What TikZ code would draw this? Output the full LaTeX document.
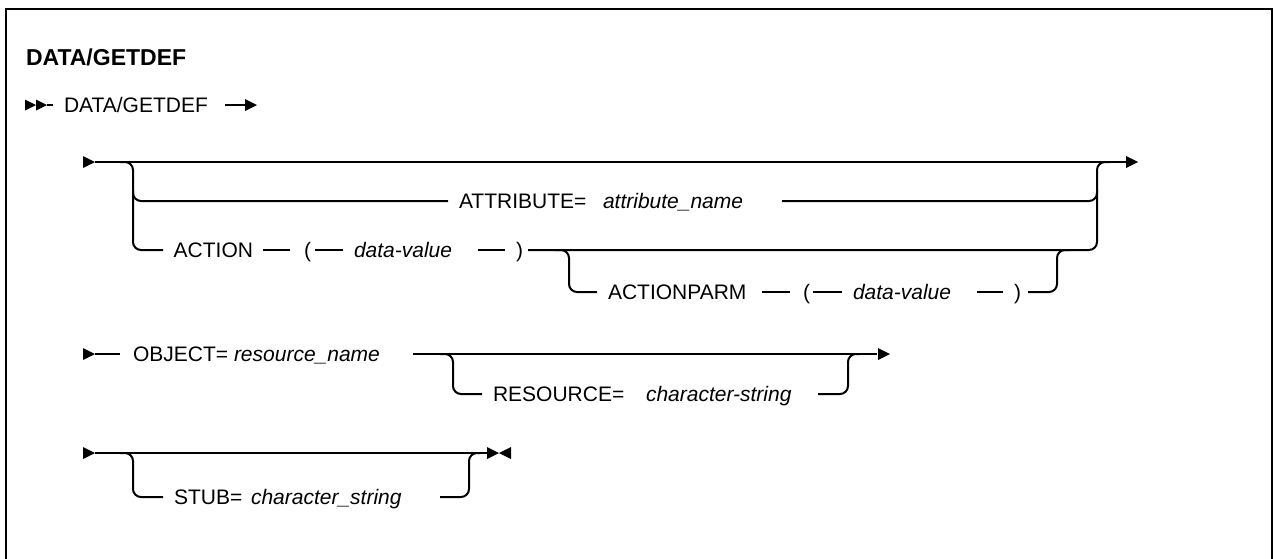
\documentclass[tikz,border=0pt]{standalone}
\usepackage{fontspec}
\setmainfont{Liberation Sans}
\begin{document}
\begin{tikzpicture}[x=1pt,y=-1pt,line width=2pt,
  lbl/.style={anchor=base west,inner sep=0pt,font=\fontsize{21}{25}\selectfont},
  var/.style={anchor=base west,inner sep=0pt,font=\fontsize{21}{25}\selectfont\itshape},
  ttl/.style={anchor=base west,inner sep=0pt,font=\fontsize{23}{27}\selectfont\bfseries},
  rr/.style={rounded corners=8pt},
  rtip/.pic={\fill (0,0) -- (-12,-6) -- (-12,6) -- cycle;},
  ltip/.pic={\fill (0,0) -- (12,-6) -- (12,6) -- cycle;},
  stip/.pic={\fill (0,0) -- (-11,-5.5) -- (-11,5.5) -- cycle;}]
\useasboundingbox (0,0) rectangle (1274,558);
\draw[line width=2.5pt] (6,562) -- (6,9) -- (1272,9) -- (1272,562);
% title
\node[ttl] (title) at (25,65) {DATA/GETDEF};
% command line
\pic at (36,105) {stip}; \pic at (47,105) {stip};
\draw (47,105) -- (53,105);
\node[lbl] (cmd) at (63,112.5) {DATA/GETDEF};
\draw (225,105) -- (247,105); \pic at (257,105) {rtip};
% section 1
\pic at (95,162) {rtip};
\draw (95,162) -- (1127,162); \pic at (1138,162) {rtip};
\draw[rr] (120,162) -- (133,162) -- (133,250) -- (163,250);
\draw[rr] (133,190) -- (133,201) -- (448,201);
\node[lbl] (attr) at (458,208.5) {ATTRIBUTE=};
\node[var] (attrv) at (602,208.5) {attribute\_name};
\draw[rr] (782,201) -- (1097,201) -- (1097,190);
\node[lbl] (act) at (172.7,257.5) {ACTION};
\draw (263,250) -- (290,250);
\node[lbl] (lp1) at (303,257.5) {(};
\draw (315,250) -- (343,250);
\node[var] (dv1) at (353,257.5) {data-value};
\draw (478,250) -- (505,250);
\node[lbl] (rp1) at (515,257.5) {)};
\draw[rr] (528,250) -- (1097,250) -- (1097,162) -- (1110,162);
\draw[rr] (555,250) -- (569,250) -- (569,292) -- (597,292);
\node[lbl] (ap) at (607,299.5) {ACTIONPARM};
\draw (762,292) -- (790,292);
\node[lbl] (lp2) at (802,299.5) {(};
\draw (813,292) -- (842,292);
\node[var] (dv2) at (852,299.5) {data-value};
\draw (977,292) -- (1003,292);
\node[lbl] (rp2) at (1013,299.5) {)};
\draw[rr] (1028,292) -- (1057,292) -- (1057,250) -- (1070,250);
% section 2
\pic at (95,354) {rtip};
\draw (95,354) -- (120,354);
\node[lbl] (obj) at (132,361.5) {OBJECT=};
\node[var] (objv) at (233,361.5) {resource\_name};
\draw (413,354) -- (877,354); \pic at (890,354) {rtip};
\draw[rr] (440,354) -- (453,354) -- (453,394) -- (482,394);
\node[lbl] (res) at (492,401.5) {RESOURCE=};
\node[var] (resv) at (645,401.5) {character-string};
\draw[rr] (818,394) -- (848,394) -- (848,354) -- (860,354);
% section 3
\pic at (95,453) {rtip};
\draw (95,453) -- (488,453);
\pic at (499,453) {rtip}; \pic at (499,453) {ltip};
\draw[rr] (120,453) -- (133,453) -- (133,497) -- (163,497);
\node[lbl] (stub) at (173,504.5) {STUB=};
\node[var] (stubv) at (250,504.5) {character\_string};
\draw[rr] (440,497) -- (469,497) -- (469,453) -- (480,453);
\end{tikzpicture}
\end{document}
